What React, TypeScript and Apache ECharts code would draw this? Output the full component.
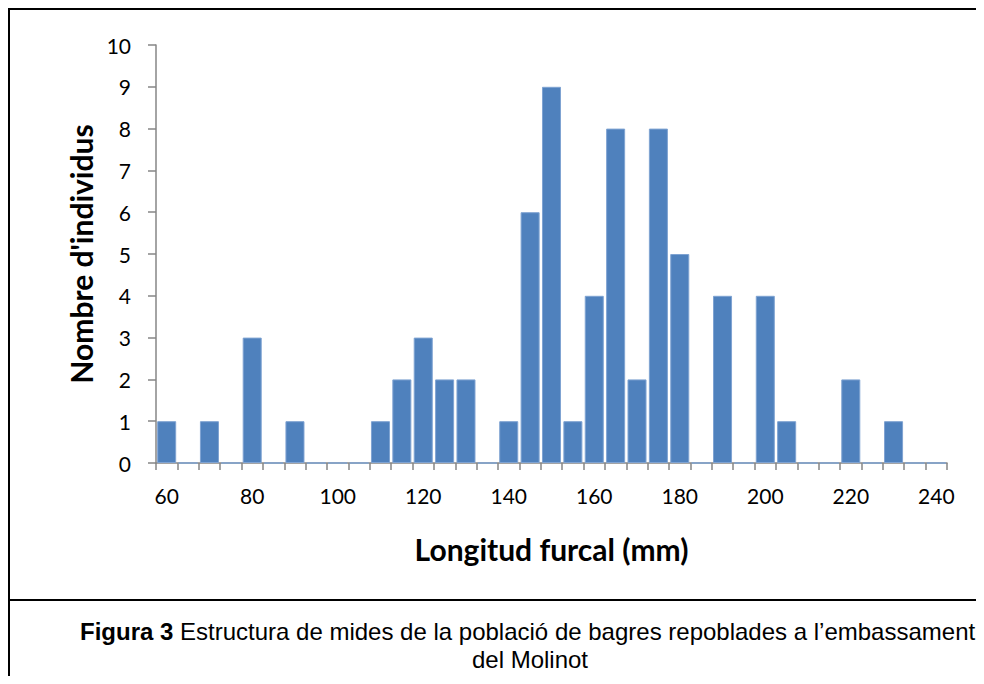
import React, { useEffect, useRef } from "react";
import * as echarts from "echarts";

const categories: string[] = [
  "60", "65", "70", "75", "80", "85", "90", "95", "100", "105", "110", "115", "120",
  "125", "130", "135", "140", "145", "150", "155", "160", "165", "170", "175", "180",
  "185", "190", "195", "200", "205", "210", "215", "220", "225", "230", "235", "240",
];
const counts: number[] = [
  1, 0, 1, 0, 3, 0, 1, 0, 0, 0, 1, 2, 3,
  2, 2, 0, 1, 6, 9, 1, 4, 8, 2, 8, 5,
  0, 4, 0, 4, 1, 0, 0, 2, 0, 1, 0, 0,
];
const xTitle = "Longitud furcal (mm)";
const yTitle = "Nombre d'individus";
const captionBold = "Figura 3";
const captionLine1 = " Estructura de mides de la població de bagres repoblades a l\u2019embassament";
const captionLine2 = "del Molinot";

export default function App() {
  const ref = useRef<HTMLDivElement>(null);
  useEffect(() => {
    if (!ref.current) return;
    const chart = echarts.init(ref.current, null, { renderer: "svg" });
    const labelFont = "Lato, 'Open Sans', sans-serif";
    const capFont = "'Liberation Sans', Arial, sans-serif";
    chart.setOption({
      animation: false,
      backgroundColor: "#ffffff",
      grid: { left: 148, right: 37, top: 37, bottom: 221, containLabel: false },
      xAxis: {
        type: "category",
        data: categories,
        boundaryGap: true,
        name: xTitle,
        nameLocation: "middle",
        nameGap: 71,
        nameTextStyle: { fontFamily: labelFont, fontWeight: "bold", fontSize: 30, color: "#000" },
        axisLine: { lineStyle: { color: "#868686", width: 1.5 } },
        axisTick: { show: true, interval: 0, length: 7, lineStyle: { color: "#868686", width: 1.5 } },
        axisLabel: { interval: 3, color: "#000", fontSize: 21, fontFamily: labelFont, margin: 22 },
        splitLine: { show: false },
      },
      yAxis: {
        type: "value",
        min: 0,
        max: 10,
        interval: 1,
        name: yTitle,
        nameLocation: "middle",
        nameGap: 60,
        nameRotate: 90,
        nameTextStyle: { fontFamily: labelFont, fontWeight: "bold", fontSize: 30, color: "#000" },
        axisLine: { show: true, lineStyle: { color: "#868686", width: 1.5 } },
        axisTick: { show: true, length: 8, lineStyle: { color: "#868686", width: 1.5 } },
        axisLabel: { color: "#000", fontSize: 21, fontFamily: labelFont, margin: 25 },
        splitLine: { show: false },
      },
      series: [
        {
          type: "bar",
          data: counts,
          barCategoryGap: "11%",
          itemStyle: { color: "#4F81BD", borderColor: "#7FA3D2", borderWidth: 1 },
        },
      ],
      graphic: [
        { type: "line", shape: { x1: 1, y1: 0, x2: 1, y2: 676 }, style: { stroke: "#000", lineWidth: 2 } },
        { type: "line", shape: { x1: 0, y1: 1, x2: 976, y2: 1 }, style: { stroke: "#000", lineWidth: 2 } },
        { type: "line", shape: { x1: 0, y1: 592, x2: 976, y2: 592 }, style: { stroke: "#000", lineWidth: 2 } },
        {
          type: "text",
          left: 72,
          top: 611,
          style: {
            rich: {
              b: { fontFamily: capFont, fontWeight: "bold", fontSize: 24, fill: "#000" },
              n: { fontFamily: capFont, fontSize: 24, fill: "#000" },
            },
            text: `{b|${captionBold}}{n|${captionLine1}}`,
          },
        },
        {
          type: "text",
          x: 522,
          y: 651,
          style: {
            text: captionLine2,
            align: "center",
            verticalAlign: "middle",
            fontFamily: capFont,
            fontSize: 24,
            fill: "#000",
          },
        },
      ],
    });
    return () => chart.dispose();
  }, []);
  return <div ref={ref} style={{ width: 976, height: 676, marginBottom: -8 }} />;
}
